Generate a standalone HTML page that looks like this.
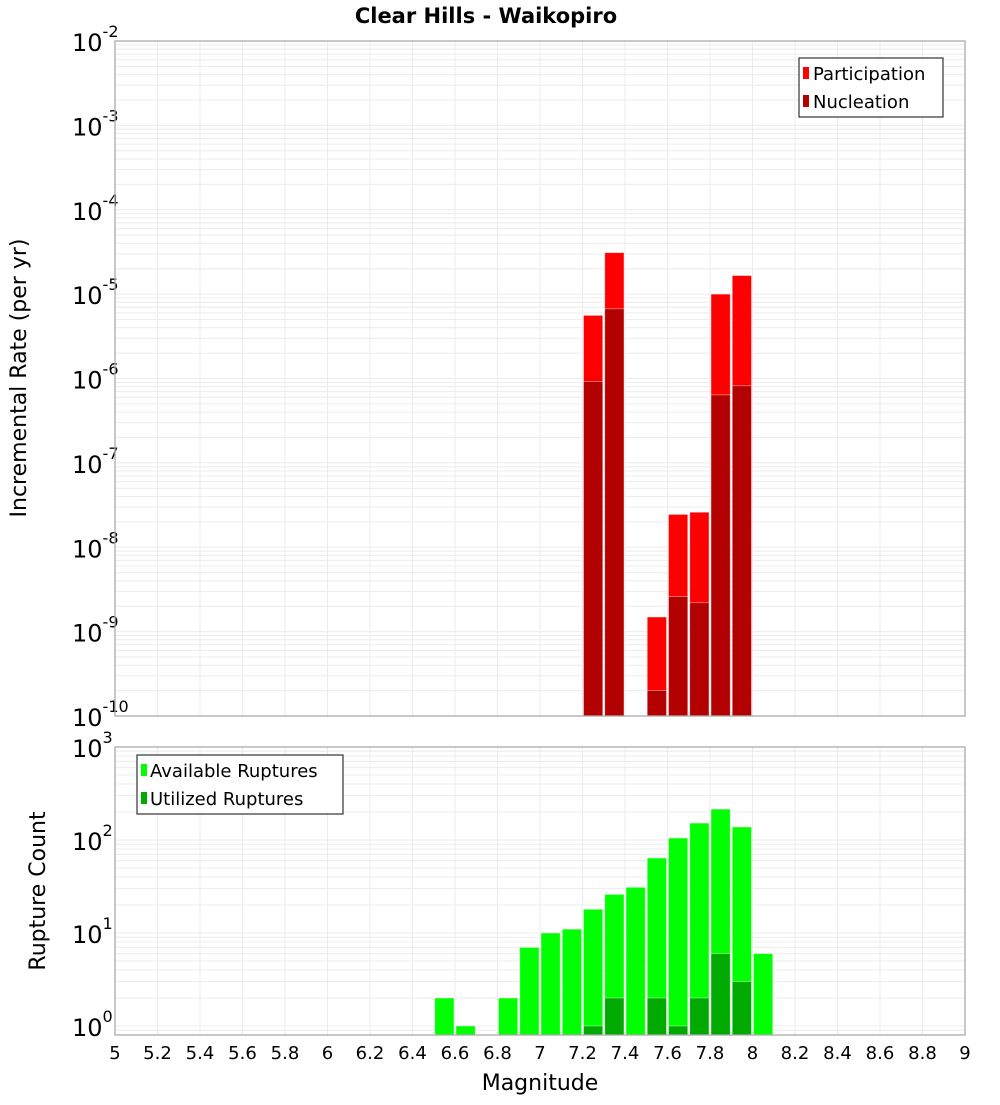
<!DOCTYPE html>
<html><head><meta charset="utf-8"><style>
body{margin:0;background:#fff;}
svg text{font-family:"DejaVu Sans","Liberation Sans",sans-serif;fill:#000;}
</style></head><body>
<svg id="c" xmlns="http://www.w3.org/2000/svg" width="1000" height="1100" viewBox="0 0 1000 1100">
<text x="486" y="23" font-size="21" font-weight="bold" text-anchor="middle">Clear Hills - Waikopiro</text>
<text transform="translate(26,378) rotate(-90)" font-size="22" text-anchor="middle">Incremental Rate (per yr)</text>
<text transform="translate(45,891) rotate(-90)" font-size="22" text-anchor="middle">Rupture Count</text>
<text x="540" y="1090" font-size="22" text-anchor="middle">Magnitude</text>
<g id="topPanel"></g><g id="botPanel"></g>
<g>
<rect x="799" y="58" width="144" height="59" fill="#fff" stroke="#333" stroke-width="1.2"/>
<rect x="803" y="67" width="6" height="12" fill="#ff0000"/>
<text x="813" y="80" font-size="18">Participation</text>
<rect x="803" y="95" width="6" height="12" fill="#b30000"/>
<text x="813" y="108" font-size="18">Nucleation</text>
</g>
<g>
<rect x="137" y="755" width="206" height="59" fill="#fff" stroke="#333" stroke-width="1.2"/>
<rect x="141" y="764" width="6" height="12" fill="#00ff00"/>
<text x="150" y="777" font-size="18">Available Ruptures</text>
<rect x="141" y="792" width="6" height="12" fill="#00aa00"/>
<text x="150" y="805" font-size="18">Utilized Ruptures</text>
</g>
</svg>
<script>
const partMags=[7.25,7.35,7.55,7.65,7.75,7.85,7.95];
const partVals=[5.6e-6,3.1e-5,1.49e-9,2.45e-8,2.6e-8,1.0e-5,1.66e-5];
const nuclVals=[9.2e-7,6.7e-6,2.0e-10,2.6e-9,2.2e-9,6.4e-7,8.2e-7];
const availMags=[6.55,6.65,6.85,6.95,7.05,7.15,7.25,7.35,7.45,7.55,7.65,7.75,7.85,7.95,8.05];
const availVals=[2,1,2,7,10,11,18,26,31,64,105,152,215,138,6];
const utilMags=[7.25,7.35,7.55,7.65,7.75,7.85,7.95];
const utilVals=[1,2,2,1,2,6,3];
const xTicks=[5,5.2,5.4,5.6,5.8,6,6.2,6.4,6.6,6.8,7,7.2,7.4,7.6,7.8,8,8.2,8.4,8.6,8.8,9];
const topExps=[-2,-3,-4,-5,-6,-7,-8,-9,-10];
const botExps=[3,2,1,0];
const NS="http://www.w3.org/2000/svg";
const X0=115,X1=965;
function sx(m){return X0+(m-5)/4*(X1-X0);}
const TP={y0:41,y1:716,lo:-10,hi:-2};
const BP={y0:747,y1:1035,lo:Math.log10(0.8),hi:3};
function sy(P,v){const l=Math.log10(v);return P.y1-(l-P.lo)/(P.hi-P.lo)*(P.y1-P.y0);}
function el(p,t,a){const e=document.createElementNS(NS,t);for(const k in a)e.setAttribute(k,a[k]);p.appendChild(e);return e;}
function panel(g,P,exps,name){
  for(let d=Math.floor(P.lo);d<P.hi;d++)for(let k=1;k<10;k++){const v=k*Math.pow(10,d);const y=sy(P,v);if(y<P.y0-0.5||y>P.y1)continue;
    const l=el(g,'line',{x1:X0,x2:X1,y1:y,y2:y,stroke:'#ececec','stroke-width':1});
    
    }
  xTicks.forEach(t=>{const x=sx(t);const l=el(g,'line',{x1:x,x2:x,y1:P.y0,y2:P.y1,stroke:'#ececec','stroke-width':1});
    
    });
  exps.forEach(e=>{const y=sy(P,Math.pow(10,e));const t=el(g,'text',{x:72,y:y+10,'font-size':24});
    
    
    t.textContent='10';const s=el(t,'tspan',{dy:-14,'font-size':16});s.textContent=String(e);});
}
function bars(g,P,mags,vals,color,name){
  mags.forEach((m,i)=>{const x=sx(m-0.05)+1,w=sx(m+0.05)-sx(m-0.05)-2;const y=sy(P,vals[i]);
    const r=el(g,'rect',{x:x,y:y,width:w,height:P.y1-y,fill:color,stroke:'#ffffff','stroke-opacity':0.5,'stroke-width':0.8});
    
    });
}
const gTop=document.getElementById('topPanel'),gBot=document.getElementById('botPanel');
panel(gTop,TP,topExps,'top');
bars(gTop,TP,partMags,partVals,'#ff0000','participation-bar');
bars(gTop,TP,partMags,nuclVals,'#b30000','nucleation-bar');
el(gTop,'rect',{x:X0,y:TP.y0,width:X1-X0,height:TP.y1-TP.y0,fill:'none',stroke:'#aaa','stroke-width':1.3});
panel(gBot,BP,botExps,'bottom');
bars(gBot,BP,availMags,availVals,'#00ff00','available-bar');
bars(gBot,BP,utilMags,utilVals,'#00aa00','utilized-bar');
el(gBot,'rect',{x:X0,y:BP.y0,width:X1-X0,height:BP.y1-BP.y0,fill:'none',stroke:'#aaa','stroke-width':1.3});
xTicks.forEach(t=>{const tx=el(gBot,'text',{x:sx(t),y:1059,'font-size':18,'text-anchor':'middle'});
  
  
  tx.textContent=String(t);});
</script>
</body></html>
